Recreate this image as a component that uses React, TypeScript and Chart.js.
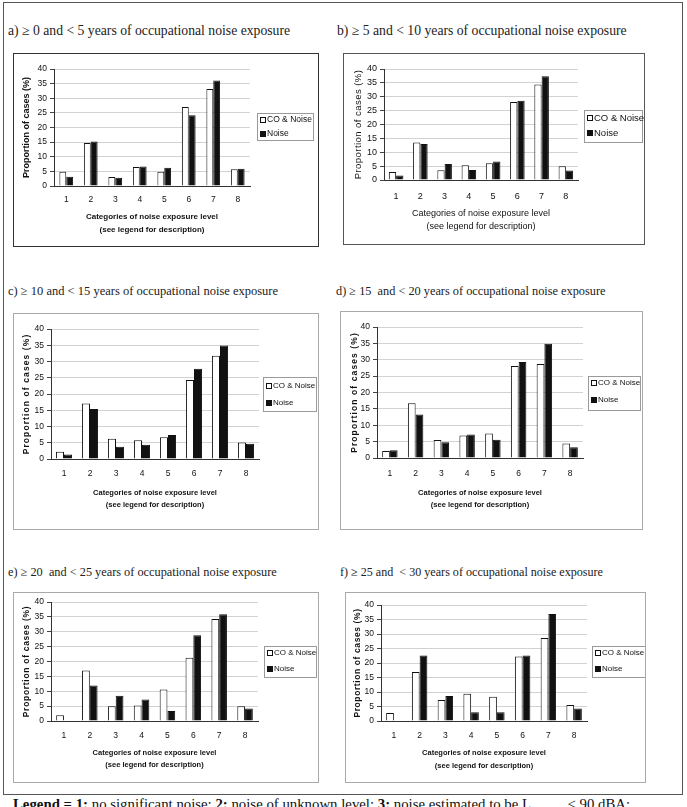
import React, { useEffect, useRef } from "react";
import { Chart, registerables } from "chart.js";
Chart.register(...registerables);

const categories = ["1", "2", "3", "4", "5", "6", "7", "8"];
const seriesLabels = ["CO & Noise", "Noise"];
const yAxisTitle = "Proportion of cases (%)";
const xAxisTitle = ["Categories of noise exposure level", "(see legend for description)"];

const coNoiseA = [4.9, 14.7, 3.1, 6.5, 4.9, 27.0, 33.2, 5.7];
const noiseA = [3.2, 15.2, 2.8, 6.7, 6.2, 24.2, 36.1, 5.9];
const coNoiseB = [2.9, 13.5, 3.5, 5.3, 6.0, 28.1, 34.4, 5.0];
const noiseB = [1.6, 13.0, 5.8, 3.6, 6.7, 28.6, 37.4, 3.4];
const coNoiseC = [2.2, 17.1, 6.2, 5.8, 6.7, 24.3, 31.8, 5.1];
const noiseC = [1.4, 15.4, 3.8, 4.4, 7.4, 27.8, 34.9, 4.7];
const coNoiseD = [2.1, 16.7, 5.5, 6.9, 7.5, 28.1, 28.7, 4.4];
const noiseD = [2.4, 13.3, 4.8, 7.2, 5.6, 29.3, 34.9, 3.3];
const coNoiseE = [1.9, 17.0, 5.0, 5.2, 10.6, 21.3, 34.3, 5.0];
const noiseE = [0, 11.9, 8.5, 7.2, 3.4, 28.8, 35.9, 4.2];
const coNoiseF = [2.8, 16.9, 7.2, 9.4, 8.4, 22.2, 28.6, 5.5];
const noiseF = [0, 22.6, 8.6, 3.0, 3.0, 22.6, 36.9, 4.3];

const titleA = "a) \u2265 0 and < 5 years of occupational noise exposure";
const titleB = "b) \u2265 5 and < 10 years of occupational noise exposure";
const titleC = "c) \u2265 10 and < 15 years of occupational noise exposure";
const titleD = "d) \u2265 15  and < 20 years of occupational noise exposure";
const titleE = "e) \u2265 20  and < 25 years of occupational noise exposure";
const titleF = "f) \u2265 25 and  < 30 years of occupational noise exposure";

const SANS = '"Liberation Sans", Arial, sans-serif';
const SERIF = '"Liberation Serif", "Times New Roman", serif';

type Spec = {
  title: string;
  co: number[];
  noise: number[];
  titlePos: number[];
  titleSize: number;
  box: number[];
  border: string;
  area: number[];
  yTitleX: number;
  yTitleSize: number;
  yTitleWeight: string;
  ySpacing: number;
  tickPad: number;
  tickSize: number;
  xTitleSize: number;
  xTitleWeight: string;
  xLine2: number;
  xLineH: number;
  legend: number[];
  rows: number[];
  legendSize: number;
  bar: number;
};

const panels: Spec[] = [
  { title: titleA, co: coNoiseA, noise: noiseA, titlePos: [8, 31], titleSize: 13.7, box: [13, 53, 306, 194], border: "#333",
    area: [54, 69, 250, 186], yTitleX: 27, yTitleSize: 9, yTitleWeight: "bold", ySpacing: 0, tickPad: 9, tickSize: 8.5,
    xTitleSize: 8, xTitleWeight: "bold", xLine2: 44, xLineH: 13, legend: [257, 113, 56, 27], rows: [120, 134], legendSize: 8.5, bar: 0.56 },
  { title: titleB, co: coNoiseB, noise: noiseB, titlePos: [337, 31], titleSize: 13.7, box: [343, 53, 302, 192], border: "#555",
    area: [384, 69, 578, 180], yTitleX: 358, yTitleSize: 9.5, yTitleWeight: "normal", ySpacing: 0.45, tickPad: 11, tickSize: 9,
    xTitleSize: 9, xTitleWeight: "normal", xLine2: 47, xLineH: 13, legend: [584, 110, 58, 32], rows: [118, 133], legendSize: 9.5, bar: 0.6 },
  { title: titleC, co: coNoiseC, noise: noiseC, titlePos: [8, 291], titleSize: 12.5, box: [13, 313, 306, 217], border: "#aaa",
    area: [51, 329, 259, 459], yTitleX: 27, yTitleSize: 8.5, yTitleWeight: "bold", ySpacing: 1.1, tickPad: 10, tickSize: 8.5,
    xTitleSize: 7.5, xTitleWeight: "bold", xLine2: 46, xLineH: 12, legend: [263, 377, 53, 34], rows: [386, 403], legendSize: 8, bar: 0.62 },
  { title: titleD, co: coNoiseD, noise: noiseD, titlePos: [336, 291], titleSize: 12.3, box: [340, 311, 303, 219], border: "#aaa",
    area: [377, 327, 583, 458], yTitleX: 355, yTitleSize: 8.5, yTitleWeight: "bold", ySpacing: 1.1, tickPad: 11, tickSize: 8.5,
    xTitleSize: 7.5, xTitleWeight: "bold", xLine2: 47, xLineH: 12, legend: [588, 376, 52, 34], rows: [383, 400], legendSize: 8, bar: 0.6 },
  { title: titleE, co: coNoiseE, noise: noiseE, titlePos: [8, 572], titleSize: 12.3, box: [13, 592, 306, 191], border: "#aaa",
    area: [51, 602, 258, 721], yTitleX: 27, yTitleSize: 8.5, yTitleWeight: "bold", ySpacing: 0.7, tickPad: 10, tickSize: 8.5,
    xTitleSize: 7.5, xTitleWeight: "bold", xLine2: 44, xLineH: 12, legend: [264, 646, 52, 31], rows: [653, 669], legendSize: 8, bar: 0.6 },
  { title: titleF, co: coNoiseF, noise: noiseF, titlePos: [340, 572], titleSize: 12.1, box: [345, 592, 301, 191], border: "#aaa",
    area: [381, 605, 587, 721], yTitleX: 358, yTitleSize: 8.5, yTitleWeight: "bold", ySpacing: 0.6, tickPad: 10, tickSize: 8.5,
    xTitleSize: 7.5, xTitleWeight: "bold", xLine2: 45, xLineH: 13, legend: [592, 646, 53, 31], rows: [653, 669], legendSize: 8, bar: 0.6 },
];

function Panel({ spec }: { spec: Spec }) {
  const ref = useRef<HTMLCanvasElement>(null);
  const [bx, by, bw, bh] = spec.box;
  const ox = bx + 1;
  const oy = by + 1;
  const cw = bw - 2;
  const ch = bh - 2;

  useEffect(() => {
    if (!ref.current) return;
    const [l, t, r, b] = spec.area;
    const H = spec.xLine2 + spec.xLineH / 2;
    const overlay = {
      id: "overlay",
      afterDraw(chart: any) {
        const ctx = chart.ctx as CanvasRenderingContext2D;
        const ca = chart.chartArea;
        ctx.save();
        ctx.translate(spec.yTitleX - ox, (ca.top + ca.bottom) / 2);
        ctx.rotate(-Math.PI / 2);
        ctx.font = `${spec.yTitleWeight} ${spec.yTitleSize}px ${SANS}`;
        (ctx as any).letterSpacing = spec.ySpacing + "px";
        ctx.fillStyle = "#111";
        ctx.textAlign = "center";
        ctx.textBaseline = "middle";
        ctx.fillText(yAxisTitle, 0, 0);
        (ctx as any).letterSpacing = "0px";
        ctx.restore();

        const [lx, ly, lw, lh] = spec.legend;
        ctx.save();
        ctx.strokeStyle = "#9a9a9a";
        ctx.lineWidth = 1;
        ctx.strokeRect(Math.round(lx - ox) + 0.5, Math.round(ly - oy) + 0.5, lw, lh);
        ctx.font = `${spec.legendSize}px ${SANS}`;
        ctx.textBaseline = "middle";
        ctx.textAlign = "left";
        chart.data.datasets.forEach((ds: any, i: number) => {
          const yy = Math.round(spec.rows[i] - oy);
          const mx = Math.round(lx - ox + 2.5);
          const s = 6;
          ctx.fillStyle = ds.backgroundColor;
          ctx.fillRect(mx, yy - s / 2, s, s);
          ctx.strokeStyle = "#111";
          ctx.strokeRect(mx + 0.5, yy - s / 2 + 0.5, s - 1, s - 1);
          ctx.fillStyle = "#111";
          ctx.fillText(ds.label, mx + s + 1, yy);
        });
        ctx.restore();
      },
    };

    const chart = new Chart(ref.current, {
      type: "bar",
      data: {
        labels: categories,
        datasets: [
          { label: seriesLabels[0], data: spec.co, backgroundColor: "#ffffff", borderColor: "#111", borderWidth: 1,
            categoryPercentage: spec.bar, barPercentage: 1 },
          { label: seriesLabels[1], data: spec.noise, backgroundColor: "#111111", borderColor: "#111", borderWidth: 1,
            categoryPercentage: spec.bar, barPercentage: 1 },
        ],
      },
      options: {
        responsive: false,
        animation: false,
        devicePixelRatio: 1,
        layout: { padding: { top: t - oy, right: ox + cw - r, bottom: oy + ch - (b + H), left: 0 } },
        plugins: { legend: { display: false }, tooltip: { enabled: false }, title: { display: false } },
        scales: {
          x: {
            grid: { display: false, drawTicks: false },
            border: { display: true, color: "#333", width: 1 },
            ticks: { padding: spec.tickPad, font: { size: spec.tickSize, family: SANS }, color: "#111", maxRotation: 0, autoSkip: false },
            title: {
              display: true,
              text: xAxisTitle,
              font: { size: spec.xTitleSize, weight: spec.xTitleWeight as any, family: SANS, lineHeight: spec.xLineH / spec.xTitleSize },
              color: "#111",
              padding: 0,
            },
            afterFit: (s: any) => { s.height = H; },
          },
          y: {
            min: 0,
            max: 40,
            ticks: { stepSize: 5, padding: 3, font: { size: spec.tickSize, family: SANS }, color: "#111" },
            grid: { color: "#d2d2d2", tickColor: "#444", tickLength: 4, drawTicks: true },
            border: { display: true, color: "#333" },
            afterFit: (s: any) => { s.width = l - ox; },
          },
        },
      },
      plugins: [overlay],
    });
    return () => chart.destroy();
  }, [spec]);

  return (
    <>
      <div style={{ position: "absolute", left: spec.titlePos[0], top: spec.titlePos[1] - 8, fontFamily: SERIF, fontSize: spec.titleSize,
        lineHeight: "16px", color: "#222", whiteSpace: "pre" }}>{spec.title}</div>
      <div style={{ position: "absolute", left: bx, top: by, width: bw - 2, height: bh - 2, border: `1px solid ${spec.border}` }}>
        <canvas ref={ref} width={cw} height={ch} style={{ position: "absolute", left: 0, top: 0, width: cw, height: ch }} />
      </div>
    </>
  );
}

export default function App() {
  return (
    <div style={{ position: "absolute", left: 0, top: 0, width: 687, height: 807, overflow: "hidden", background: "#fff" }}>
      <div style={{ position: "absolute", left: 3, top: 2, width: 678, height: 791, border: "1px solid #555" }} />
      {panels.map((p, i) => <Panel key={i} spec={p} />)}
      <div style={{ position: "absolute", left: 13, top: 796, fontFamily: SERIF, fontSize: 14.8, lineHeight: "17px", color: "#111", whiteSpace: "pre" }}>
        <b>Legend = 1:</b> no significant noise; <b>2:</b> noise of unknown level; <b>3:</b> noise estimated to be L{"          "}&lt; 90 dBA;
      </div>
    </div>
  );
}
